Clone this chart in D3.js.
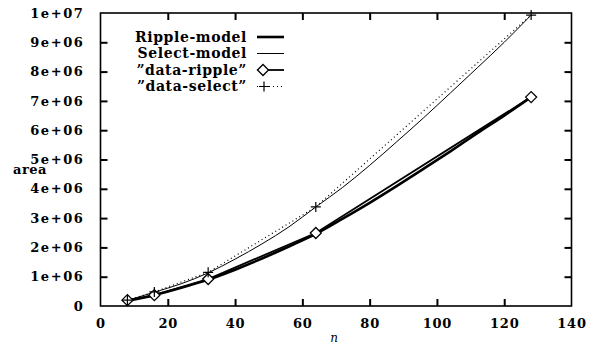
<!DOCTYPE html>
<html><head><meta charset="utf-8">
<script src="https://cdn.jsdelivr.net/npm/d3@7"></script>
<style>body{margin:0;background:#fff}svg{display:block}
text{font-family:"DejaVu Serif",serif;font-weight:bold;fill:#000}</style>
</head><body>
<svg id="c" width="604" height="344"></svg>
<script>
// data (values in units of area)
const dataN = [8, 16, 32, 64, 128];
const dataRipple = [0.20e6, 0.37e6, 0.92e6, 2.49e6, 7.13e6];
const dataSelect = [0.20e6, 0.48e6, 1.15e6, 3.38e6, 9.93e6];
const modelN = [8, 16, 24, 32, 40, 48, 56, 64, 72, 80, 88, 96, 104, 112, 120, 128];
const rippleModel = [0.18e6, 0.37e6, 0.62e6, 0.90e6, 1.24e6, 1.62e6, 2.03e6, 2.46e6, 2.98e6, 3.52e6, 4.09e6, 4.68e6, 5.28e6, 5.90e6, 6.50e6, 7.13e6];
const selectModel = [0.19e6, 0.47e6, 0.76e6, 1.13e6, 1.60e6, 2.12e6, 2.70e6, 3.38e6, 4.05e6, 4.80e6, 5.60e6, 6.42e6, 7.27e6, 8.13e6, 9.00e6, 9.93e6];
const xTicks = [0, 20, 40, 60, 80, 100, 120, 140];
const yTicks = [0, 1e6, 2e6, 3e6, 4e6, 5e6, 6e6, 7e6, 8e6, 9e6, 1e7];
const yTickLabels = ["0", "1e+06", "2e+06", "3e+06", "4e+06", "5e+06", "6e+06", "7e+06", "8e+06", "9e+06", "1e+07"];
const legendLabels = ["Ripple-model", "Select-model", "\u201ddata-ripple\u201d", "\u201ddata-select\u201d"];

const svg = d3.select("#c");
const L = 100.5, R = 571.5, T = 13, B = 306;
const x = d3.scaleLinear().domain([0, 140]).range([L, R]);
const y = d3.scaleLinear().domain([0, 1e7]).range([B, T]);

// frame
svg.append("rect").attr("x", L).attr("y", T).attr("width", R - L).attr("height", B - T)
  .attr("fill", "none").attr("stroke", "#000").attr("stroke-width", 1.6);

const tl = 7;
const gx = svg.append("g").attr("transform", `translate(0,${B})`)
  .call(d3.axisBottom(x).tickValues(xTicks).tickSize(-tl).tickPadding(tl + 6).tickFormat(d3.format("d")));
const gxt = svg.append("g").attr("transform", `translate(0,${T})`)
  .call(d3.axisTop(x).tickValues(xTicks.slice(1, -1)).tickSize(-tl).tickFormat(""));
const gy = svg.append("g").attr("transform", `translate(${L},0)`)
  .call(d3.axisLeft(y).tickValues(yTicks).tickSize(-tl).tickPadding(tl + 9).tickFormat((d, i) => yTickLabels[i]));
const gyr = svg.append("g").attr("transform", `translate(${R},0)`)
  .call(d3.axisRight(y).tickValues(yTicks.slice(1, -1)).tickSize(-tl).tickFormat(""));
[gx, gxt, gy, gyr].forEach(g => {
  g.attr("font-family", null).attr("font-size", null);
  g.select(".domain").remove();
  g.selectAll(".tick line").attr("stroke", "#000").attr("stroke-width", 2);
  g.selectAll("text").style("font-size", "13px").style("fill", "#000");
});
gx.selectAll("text").style("letter-spacing", "0.8px");
gy.selectAll("text").style("letter-spacing", "1.6px");
gx.selectAll(".tick line").filter(d => d === 0 || d === 140).remove();
gy.selectAll(".tick line").filter(d => d === 0 || d === 1e7).remove();

// axis titles
svg.append("text").attr("x", 13).attr("y", 174).text("area")
  .style("font-size", "13px").style("letter-spacing", "0.5px");
svg.append("text").attr("x", 334).attr("y", 342).attr("text-anchor", "middle").text("n")
  .style("font-style", "italic").style("font-weight", "normal").style("font-size", "12px");

// lines
const line = d3.line().x(d => x(d[0])).y(d => y(d[1]));
const lineC = d3.line().x(d => x(d[0])).y(d => y(d[1])).curve(d3.curveMonotoneX);
svg.append("path").attr("d", lineC(d3.zip(modelN, rippleModel))).attr("fill", "none")
  .attr("stroke", "#000").attr("stroke-width", 2.6);
svg.append("path").attr("d", lineC(d3.zip(modelN, selectModel))).attr("fill", "none")
  .attr("stroke", "#000").attr("stroke-width", 1);
svg.append("path").attr("d", line(d3.zip(dataN, dataRipple))).attr("fill", "none")
  .attr("stroke", "#000").attr("stroke-width", 1.8);
svg.append("path").attr("d", line(d3.zip(dataN, dataSelect))).attr("fill", "none")
  .attr("stroke", "#000").attr("stroke-width", 1.2).attr("stroke-dasharray", "1,3");

const diamond = (g, cx, cy) => g.append("path")
  .attr("d", `M${cx - 5.5},${cy}L${cx},${cy - 5.5}L${cx + 5.5},${cy}L${cx},${cy + 5.5}Z`)
  .attr("fill", "#fff").attr("stroke", "#000").attr("stroke-width", 1.3);
const plus = (g, cx, cy) => g.append("path")
  .attr("d", `M${cx - 5},${cy}H${cx + 5}M${cx},${cy - 5}V${cy + 5}`)
  .attr("stroke", "#000").attr("stroke-width", 1.2);
const mk = svg.append("g");
dataN.forEach((n, i) => diamond(mk, x(n), y(dataRipple[i])));
dataN.forEach((n, i) => plus(mk, x(n), y(dataSelect[i])));

// legend
const lg = svg.append("g");
const ly = [37, 53.5, 70, 86.5];
legendLabels.forEach((t, i) => {
  lg.append("text").attr("x", 247).attr("y", ly[i] + 4.5).attr("text-anchor", "end").text(t)
    .style("font-size", "14px").style("letter-spacing", "0.6px");
});
lg.append("line").attr("x1", 257).attr("x2", 284).attr("y1", ly[0]).attr("y2", ly[0]).attr("stroke", "#000").attr("stroke-width", 2.6);
lg.append("line").attr("x1", 257).attr("x2", 284).attr("y1", ly[1]).attr("y2", ly[1]).attr("stroke", "#000").attr("stroke-width", 1);
lg.append("line").attr("x1", 257).attr("x2", 284).attr("y1", ly[2]).attr("y2", ly[2]).attr("stroke", "#000").attr("stroke-width", 1.8);
diamond(lg, 263, ly[2]);
lg.append("line").attr("x1", 257).attr("x2", 284).attr("y1", ly[3]).attr("y2", ly[3]).attr("stroke", "#000").attr("stroke-width", 1.2).attr("stroke-dasharray", "1,3");
plus(lg, 264, ly[3]);
</script>
</body></html>
